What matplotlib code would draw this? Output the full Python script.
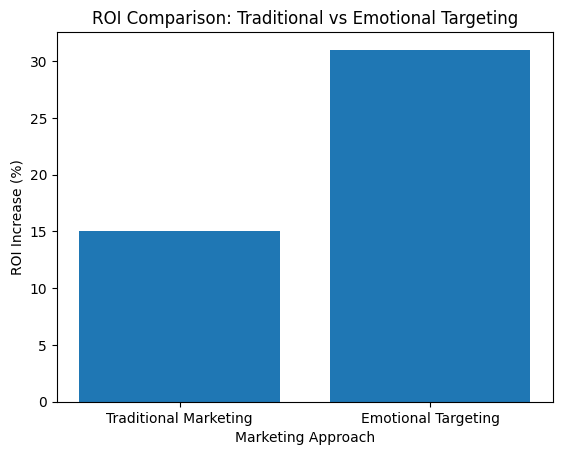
import matplotlib
matplotlib.use("Agg")
import matplotlib.pyplot as plt

approaches = ["Traditional Marketing", "Emotional Targeting"]
roi_increase = [15, 31]

fig, ax = plt.subplots()
ax.bar(approaches, roi_increase)
ax.set_title("ROI Comparison: Traditional vs Emotional Targeting")
ax.set_xlabel("Marketing Approach")
ax.set_ylabel("ROI Increase (%)")

fig.savefig("out.png", bbox_inches="tight")
